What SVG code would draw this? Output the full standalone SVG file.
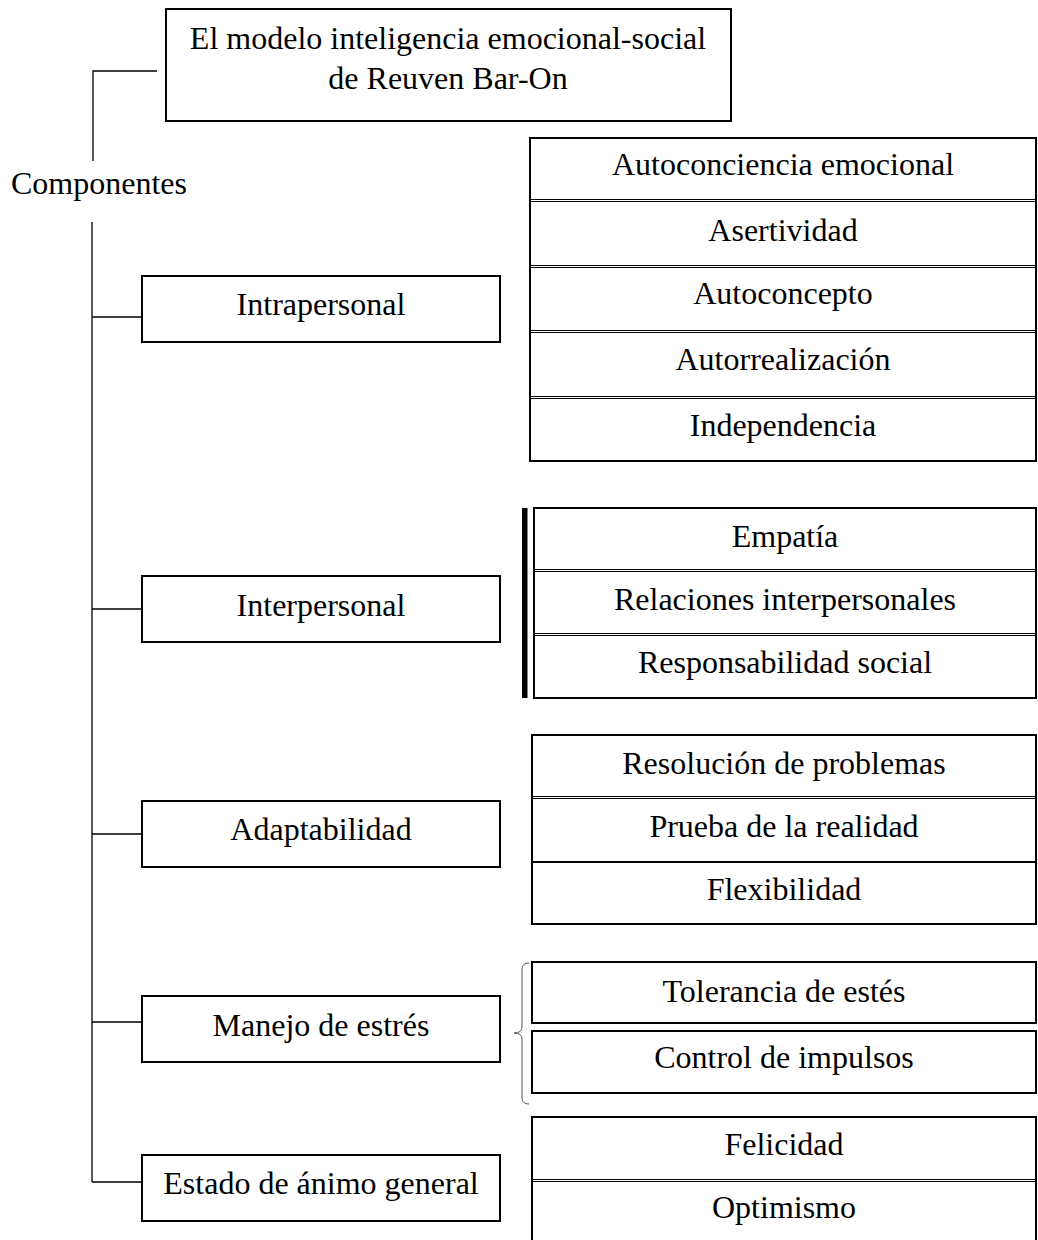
<svg xmlns="http://www.w3.org/2000/svg" width="1038" height="1240" viewBox="0 0 1038 1240">
<style>
text{font-family:"Liberation Serif","Times New Roman",serif;font-size:32px;fill:#000;text-anchor:middle}
.box{fill:#fff;stroke:#000;stroke-width:2}
.sep{stroke:#000;stroke-width:1;fill:none}
.con{stroke:#000;stroke-width:1.3;fill:none}
</style>
<rect width="1038" height="1240" fill="#fff"/>
<g id="connectors">
<path class="con" d="M157,71 H93 V161" stroke="#444"/>
<path class="con" d="M92,222 V1182"/>
<path class="con" d="M92,317 H142 M92,609 H142 M92,834 H142 M92,1022 H142 M92,1182 H142"/>
<rect x="522" y="508" width="5.5" height="190" fill="#000"/>
<path d="M529,963 Q522,963 522,969 V1027 Q522,1033 514,1033 Q522,1033 522,1039 V1098 Q522,1104 529,1104" fill="none" stroke="#555" stroke-width="1"/>
</g>
<g id="title">
<rect class="box" x="166" y="9" width="565" height="112" stroke="#222"/>
<text x="448" y="49">El modelo inteligencia emocional-social</text>
<text x="448" y="89">de Reuven Bar-On</text>
</g>
<g id="componentes">
<text x="11" y="194" style="text-anchor:start">Componentes</text>
</g>
<g id="intrapersonal">
<rect class="box" x="142" y="276" width="358" height="66"/>
<text x="321" y="315">Intrapersonal</text>
</g>
<g id="interpersonal">
<rect class="box" x="142" y="576" width="358" height="66"/>
<text x="321" y="616">Interpersonal</text>
</g>
<g id="adaptabilidad">
<rect class="box" x="142" y="801" width="358" height="66"/>
<text x="321" y="840">Adaptabilidad</text>
</g>
<g id="manejo">
<rect class="box" x="142" y="996" width="358" height="66"/>
<text x="321" y="1036">Manejo de estrés</text>
</g>
<g id="estado">
<rect class="box" x="142" y="1155" width="358" height="66"/>
<text x="321" y="1194">Estado de ánimo general</text>
</g>
<g id="intrapersonal-items">
<rect class="box" x="530" y="138" width="506" height="323"/>
<path class="sep" d="M530,199.5 H1036 M530,201.5 H1036 M530,265.5 H1036 M530,267.5 H1036 M530,330.5 H1036 M530,332.5 H1036 M530,396.5 H1036 M530,398.5 H1036"/>
<text x="783" y="175">Autoconciencia emocional</text>
<text x="783" y="241">Asertividad</text>
<text x="783" y="304">Autoconcepto</text>
<text x="783" y="370">Autorrealización</text>
<text x="783" y="436">Independencia</text>
</g>
<g id="interpersonal-items">
<rect class="box" x="534" y="508" width="502" height="190"/>
<path class="sep" d="M534,569.5 H1036 M534,571.5 H1036 M534,633.5 H1036 M534,635.5 H1036"/>
<text x="785" y="547">Empatía</text>
<text x="785" y="610">Relaciones interpersonales</text>
<text x="785" y="673">Responsabilidad social</text>
</g>
<g id="adaptabilidad-items">
<rect class="box" x="532" y="735" width="504" height="189"/>
<path class="sep" d="M532,796.5 H1036 M532,798.5 H1036"/>
<path d="M532,862 H1036" stroke="#000" stroke-width="2"/>
<text x="784" y="774">Resolución de problemas</text>
<text x="784" y="837">Prueba de la realidad</text>
<text x="784" y="900">Flexibilidad</text>
</g>
<g id="manejo-items">
<rect class="box" x="532" y="962" width="504" height="61" stroke="#222"/>
<rect class="box" x="532" y="1031" width="504" height="62" stroke="#222"/>
<text x="784" y="1002">Tolerancia de estés</text>
<text x="784" y="1068">Control de impulsos</text>
</g>
<g id="estado-items">
<rect class="box" x="532" y="1117" width="504" height="130"/>
<path class="sep" d="M532,1179.5 H1036 M532,1181.5 H1036"/>
<text x="784" y="1155">Felicidad</text>
<text x="784" y="1218">Optimismo</text>
</g>
</svg>
